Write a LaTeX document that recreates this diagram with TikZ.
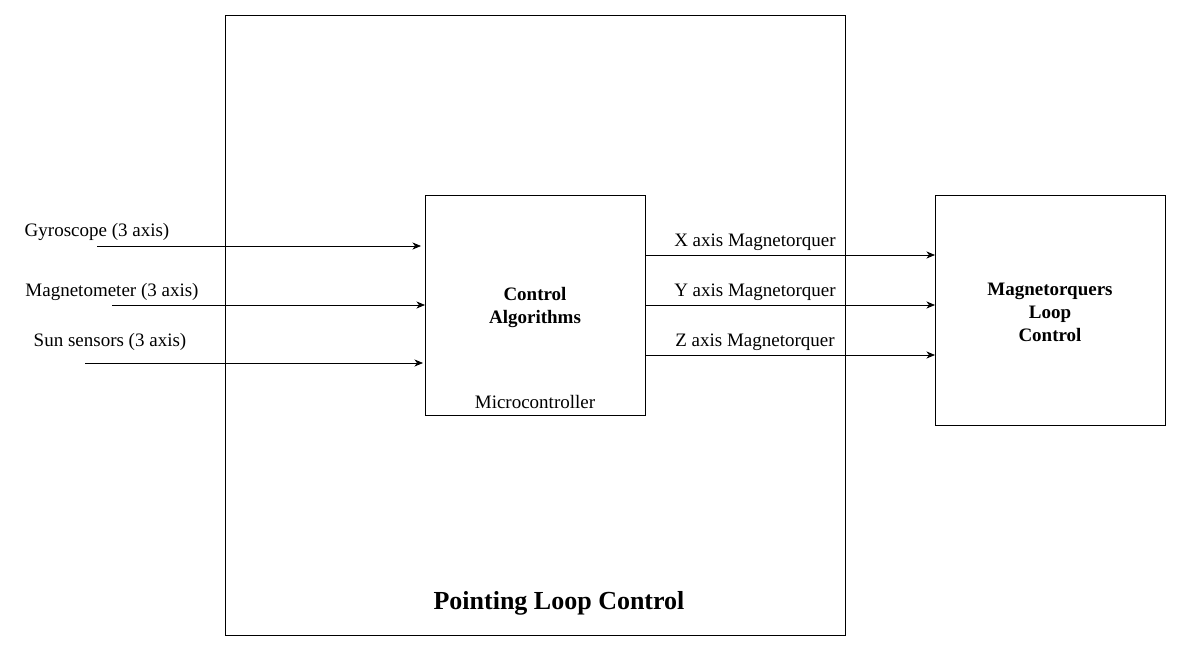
\documentclass[tikz,border=0pt]{standalone}
\usepackage{fontspec}
\setmainfont{Liberation Serif}
\usetikzlibrary{arrows.meta}
\begin{document}
\begin{tikzpicture}[x=1pt,y=-1pt,
  box/.style={draw,line width=0.8pt,inner sep=0pt},
  lbl/.style={font=\fontsize{19}{23}\selectfont,inner sep=0pt,anchor=center},
  conn/.style={line width=0.8pt,-{Stealth[length=8.5pt,width=7pt,inset=2.5pt]}}]
\useasboundingbox (0,0) rectangle (1181,651);
\node[box,minimum width=620pt,minimum height=620pt] (outer) at (535,325) {};
\node[box,minimum width=220pt,minimum height=220pt] (mcu) at (535,305) {};
\node[box,minimum width=230pt,minimum height=230pt] (mlc) at (1050,310) {};
\node[lbl,font=\bfseries\fontsize{19}{23}\selectfont,align=center] (ca) at (535,307) {Control\\Algorithms};
\node[lbl] (micro) at (535,402) {Microcontroller};
\node[lbl,font=\bfseries\fontsize{19}{23}\selectfont,align=center] (mlct) at (1050,312) {Magnetorquers\\Loop\\Control};
\node[lbl,font=\bfseries\fontsize{26}{30}\selectfont] (title) at (559,603) {Pointing Loop Control};
% inputs
\coordinate (g0) at (97,246); \coordinate (g1) at (421,246);
\coordinate (m0) at (112,305); \coordinate (m1) at (425,305);
\coordinate (s0) at (85,363); \coordinate (s1) at (423,363);
\node[lbl] (gl) at (97,232) {Gyroscope (3 axis)};
\node[lbl] (ml) at (112,292) {Magnetometer (3 axis)};
\node[lbl] (sl) at (110,342) {Sun sensors (3 axis)};
\draw[conn] (g0) -- (g1);
\draw[conn] (m0) -- (m1);
\draw[conn] (s0) -- (s1);
% outputs
\coordinate (x0) at (645,255); \coordinate (x1) at (935,255);
\coordinate (y0) at (645,305); \coordinate (y1) at (935,305);
\coordinate (z0) at (645,355); \coordinate (z1) at (935,355);
\node[lbl] (xl) at (755,242) {X axis Magnetorquer};
\node[lbl] (yl) at (755,292) {Y axis Magnetorquer};
\node[lbl] (zl) at (755,342) {Z axis Magnetorquer};
\draw[conn] (x0) -- (x1);
\draw[conn] (y0) -- (y1);
\draw[conn] (z0) -- (z1);
\end{tikzpicture}
\end{document}
